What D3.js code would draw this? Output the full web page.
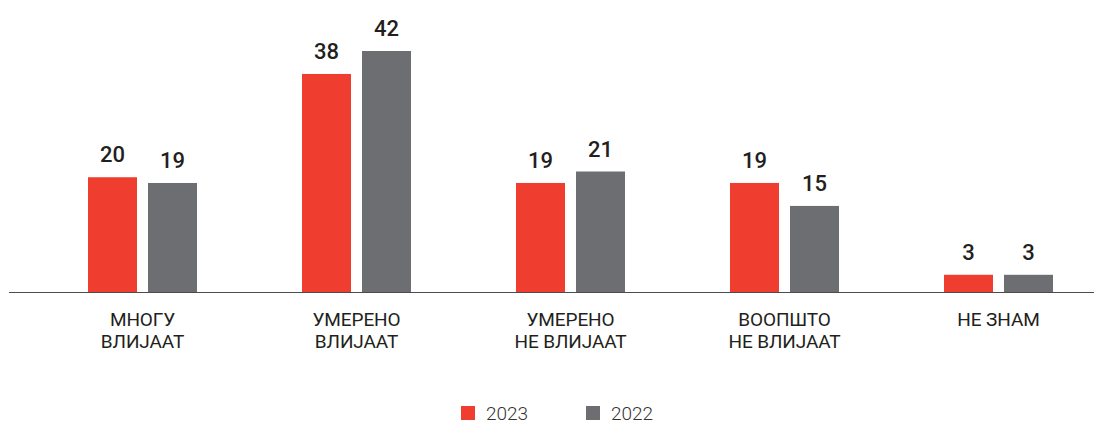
<!DOCTYPE html>
<html>
<head>
<meta charset="utf-8">
<script src="https://cdn.jsdelivr.net/npm/d3@7"></script>
<style>
  body { margin: 0; background: #fff; }
  text { font-family: Roboto, "Noto Sans", sans-serif; fill: #231f20; }
</style>
</head>
<body>
<svg width="1094" height="424"></svg>
<script>
var categories = [["МНОГУ", "ВЛИЈААТ"], ["УМЕРЕНО", "ВЛИЈААТ"], ["УМЕРЕНО", "НЕ ВЛИЈААТ"], ["ВООПШТО", "НЕ ВЛИЈААТ"], ["НЕ ЗНАМ"]];
var series = ["2023", "2022"];
var values2023 = [20, 38, 19, 19, 3];
var values2022 = [19, 42, 21, 15, 3];
var colors = ["#ef3e2f", "#6d6e71"];

var svg = d3.select("svg");
var baseline = 292;

var data = categories.map(function(c, i) {
  return {id: i, label: c, vals: [values2023[i], values2022[i]]};
});

var xScale = d3.scalePoint().domain(d3.range(categories.length)).range([142.5, 998.5]);
var xSub = d3.scaleBand().domain([0, 1]).range([-54.5, 54.5]).paddingInner(11 / 60);
var yScale = d3.scaleLinear().domain([0, 42]).range([baseline, 51]);

var g = svg.append("g");

var groups = g.selectAll(".grp")
  .data(data)
  .enter()
  .append("g")
  .attr("class", "grp")
  .attr("transform", (d) => "translate(" + xScale(d.id) + ",0)");

groups.selectAll("rect")
  .data((d) => d.vals)
  .enter()
  .append("rect")
  .attr("x", (v, j) => xSub(j))
  .attr("y", (v) => yScale(v))
  .attr("width", xSub.bandwidth())
  .attr("height", (v) => baseline - yScale(v))
  .attr("fill", (v, j) => colors[j]);

groups.selectAll(".val")
  .data((d) => d.vals)
  .enter()
  .append("text")
  .attr("class", "val")
  .attr("x", (v, j) => xSub(j) + xSub.bandwidth() / 2)
  .attr("y", (v) => yScale(v) - 15)
  .attr("text-anchor", "middle")
  .style("font-size", "22px")
  .style("font-weight", 500)
  .text((v) => v);

// axis line
svg.append("line")
  .attr("x1", 9)
  .attr("x2", 1094)
  .attr("y1", baseline + 0.5)
  .attr("y2", baseline + 0.5)
  .attr("stroke", "#4d4d4f")
  .attr("stroke-width", 1);

// category labels, one text per line
groups.selectAll(".cat")
  .data((d) => d.label)
  .enter()
  .append("text")
  .attr("class", "cat")
  .attr("text-anchor", "middle")
  .attr("x", 0)
  .attr("y", (t, k) => 325.5 + k * 22)
  .style("font-size", "19px")
  .style("letter-spacing", "-0.1px")
  .text((t) => t);

// legend
var legendX = [461, 586];
var legend = svg.selectAll(".leg")
  .data(series)
  .enter()
  .append("g")
  .attr("class", "leg")
  .attr("transform", (d, i) => "translate(" + legendX[i] + ",406)");

legend.append("rect")
  .attr("width", 14)
  .attr("height", 14)
  .attr("fill", (d, i) => colors[i]);

legend.append("text")
  .attr("x", 25)
  .attr("y", 14)
  .style("font-size", "19px")
  .style("font-weight", 300)
  .style("fill", "#333")
  .text((d) => d);
</script>
</body>
</html>
